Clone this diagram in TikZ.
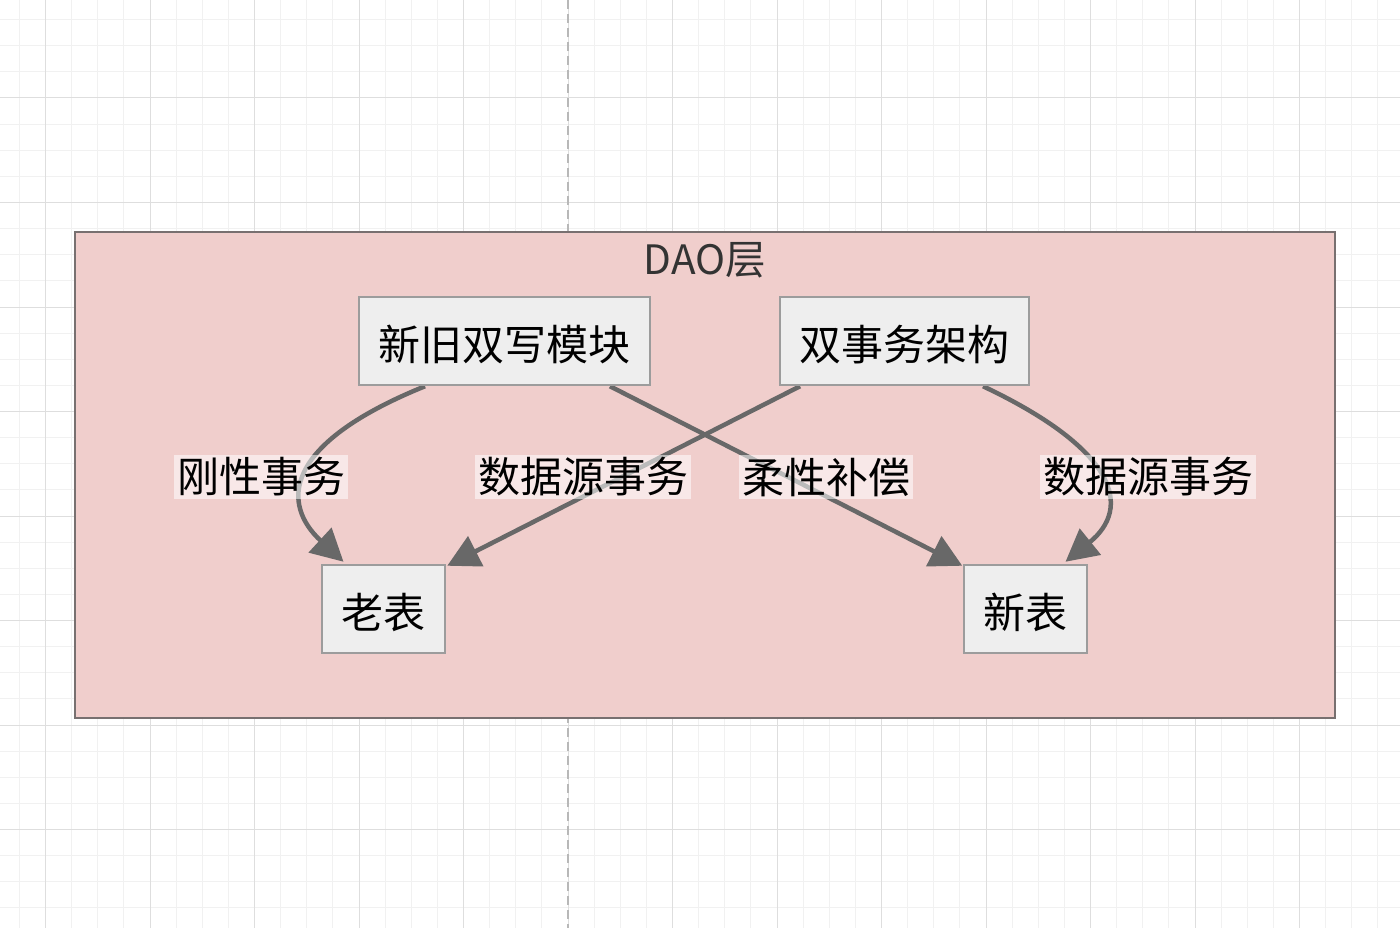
\documentclass[tikz,border=0pt]{standalone}
\usepackage{fontspec}
\newfontfamily\cjk{Noto Sans CJK SC}
\usetikzlibrary{arrows.meta}
\definecolor{gridminor}{HTML}{F1F1F1}
\definecolor{gridmajor}{HTML}{DEDEDE}
\definecolor{layerfill}{HTML}{F0CECC}
\definecolor{layerdraw}{HTML}{787070}
\definecolor{boxfill}{HTML}{EEEEEE}
\definecolor{boxdraw}{HTML}{9C9C9C}
\definecolor{edgecol}{HTML}{686868}
\definecolor{titlecol}{HTML}{333333}
\newcommand{\lowered}[1]{\raisebox{-3.5pt}[\height][\depth]{#1}}
\tikzset{
  box/.style={draw=boxdraw, line width=2.5pt, fill=boxfill, minimum height=88pt,
    inner sep=0pt, font=\cjk\fontsize{42}{50}\selectfont, text=black},
  elabel/.style={fill=white, fill opacity=0.55, text opacity=1, inner sep=3pt,
    font=\cjk\fontsize{42}{50}\selectfont, text=black},
  conn/.style={draw=edgecol, line width=4.5pt,
    -{Triangle[length=32pt,width=33pt]}},
}
\begin{document}
\begin{tikzpicture}[x=1pt,y=-1pt]
\useasboundingbox (0,0) rectangle (1400,928);
\fill[white] (0,0) rectangle (1400,928);
% grid
\foreach \i in {-2,...,54} {
  \draw[gridminor, line width=1pt] ({45.5+26.125*\i},0) -- ({45.5+26.125*\i},928);
}
\foreach \i in {-1,...,36} {
  \draw[gridminor, line width=1pt] (0,{-6.5+26.125*\i}) -- (1400,{-6.5+26.125*\i});
}
\foreach \i in {0,...,13} {
  \draw[gridmajor, line width=1pt] ({45.5+104.5*\i},0) -- ({45.5+104.5*\i},928);
}
\foreach \i in {1,...,9} {
  \draw[gridmajor, line width=1pt] (0,{-6.5+104.5*\i}) -- (1400,{-6.5+104.5*\i});
}
% dashed guide
\draw[color=black!28, line width=2pt, dash pattern=on 9pt off 5pt] (568,0) -- (568,928);
% layer
\node[draw=layerdraw, line width=2pt, fill=layerfill, minimum width=1260pt,
  minimum height=486pt, inner sep=0pt] (layer) at (705,475) {};
\node[font=\cjk\fontsize{40.5}{46}\selectfont, text=titlecol] (title) at (705,260) {DAO层};
% nodes
\node[box, minimum width=291pt] (dual) at (504.5,341) {\lowered{新旧双写模块}};
\node[box, minimum width=249pt] (tx) at (904.5,341) {\lowered{双事务架构}};
\node[box, minimum width=123pt] (old) at (383.5,609) {\lowered{老表}};
\node[box, minimum width=123pt] (new) at (1025.5,609) {\lowered{新表}};
% edges
\draw[conn] ([xshift=-79.5pt]dual.south) .. controls (280,445) and (282,505) .. ([xshift=-40pt,yshift=2pt]old.north);
\draw[conn] ([xshift=105.5pt]dual.south) -- ([xshift=-0.5pt,yshift=-2pt]new.north west);
\draw[conn] ([xshift=-104.5pt]tx.south) -- ([xshift=1pt,yshift=-2pt]old.north east);
\draw[conn] ([xshift=78.5pt]tx.south) .. controls (1118,450) and (1132,508) .. ([xshift=40pt,yshift=2pt]new.north);
% labels
\node[elabel] (l1) at (261,477) {刚性事务};
\node[elabel] (l2) at (583,477) {数据源事务};
\node[elabel] (l3) at (826,477) {柔性补偿};
\node[elabel] (l4) at (1148,477) {数据源事务};
% redraw boxes above edges
\node[box, minimum width=291pt] at (dual) {\lowered{新旧双写模块}};
\node[box, minimum width=249pt] at (tx) {\lowered{双事务架构}};
\node[box, minimum width=123pt] at (old) {\lowered{老表}};
\node[box, minimum width=123pt] at (new) {\lowered{新表}};
\end{tikzpicture}
\end{document}
